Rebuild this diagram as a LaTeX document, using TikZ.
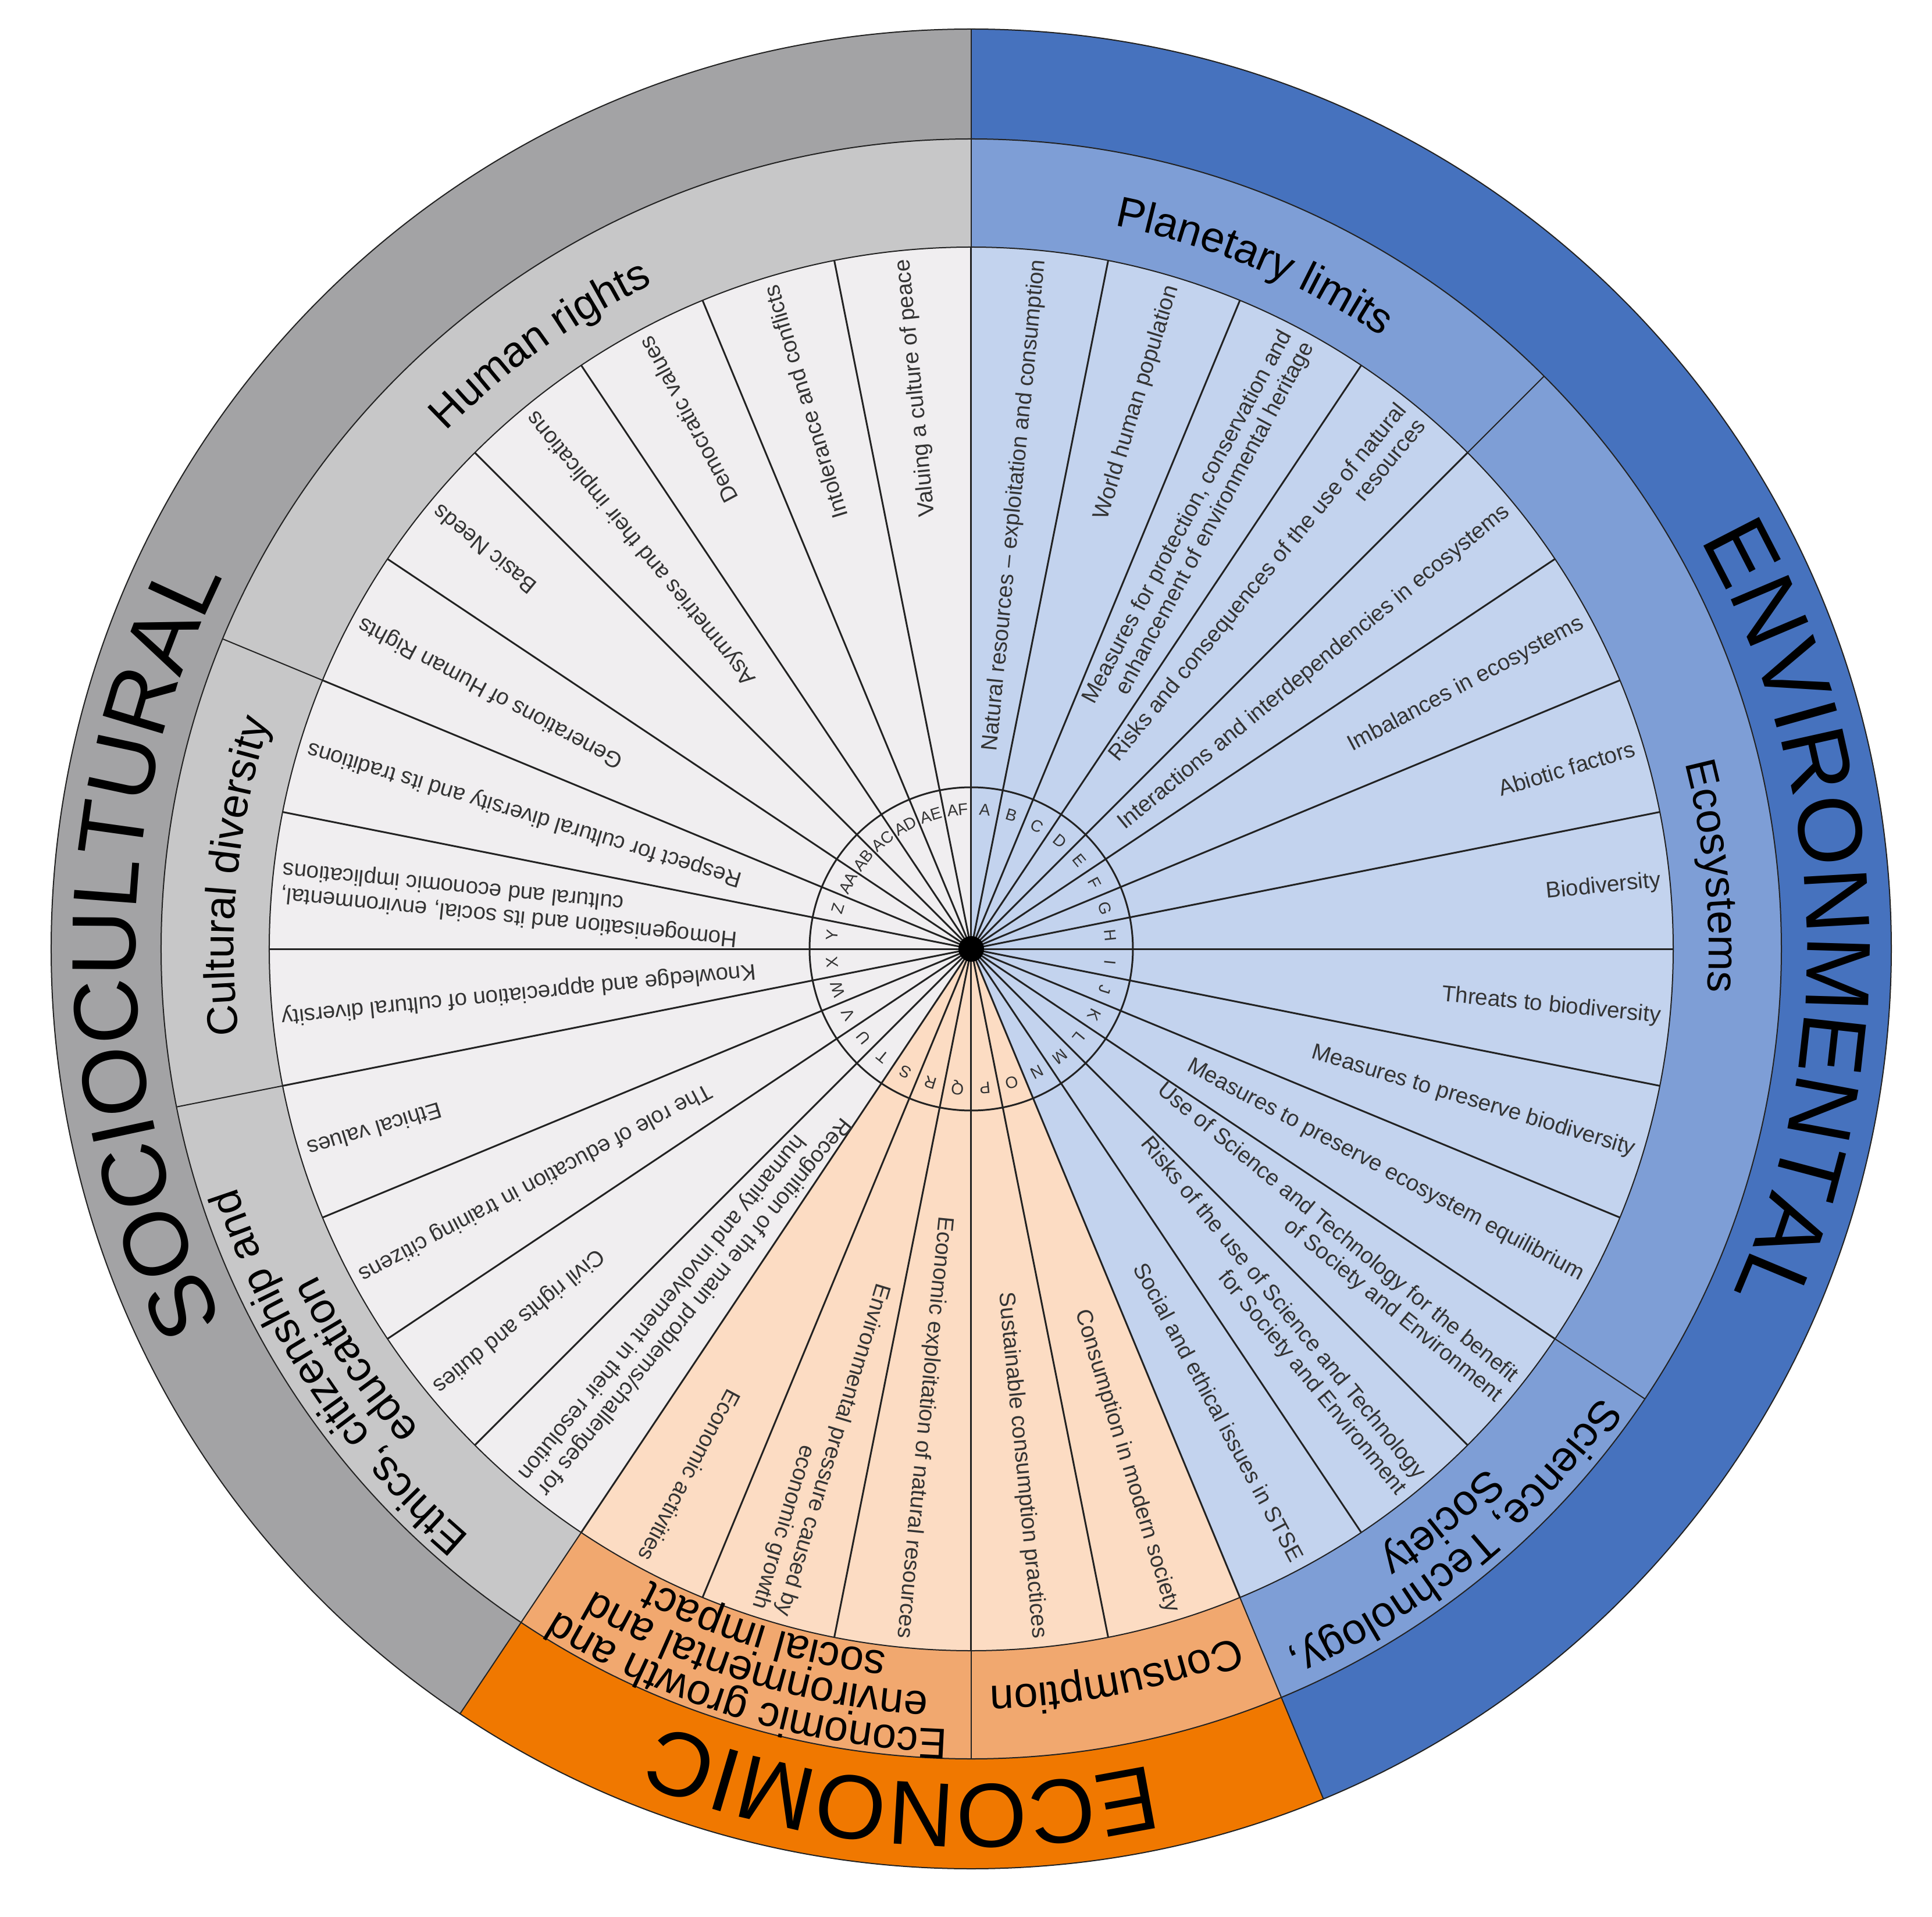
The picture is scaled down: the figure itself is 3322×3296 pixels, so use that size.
\documentclass[tikz,border=0pt]{standalone}
\usepackage{fontspec}
\setmainfont{Liberation Sans}
\usetikzlibrary{decorations.text}
\definecolor{socO}{HTML}{A3A3A5}
\definecolor{socT}{HTML}{C7C7C8}
\definecolor{socS}{HTML}{F0EEF0}
\definecolor{envO}{HTML}{4672BE}
\definecolor{envT}{HTML}{7E9ED6}
\definecolor{envS}{HTML}{C3D3EE}
\definecolor{ecoO}{HTML}{F07800}
\definecolor{ecoT}{HTML}{F1A86F}
\definecolor{ecoS}{HTML}{FCDCC3}
\definecolor{lnc}{HTML}{222222}
\definecolor{stc}{HTML}{333333}
\definecolor{ltc}{HTML}{333333}
\newcommand\thfont{\fontsize{21}{21}\selectfont}
\newcommand\bigfont{\fontsize{44.5}{44.5}\selectfont}
\newcommand\ringfill[5]{\fill[#1] (#2:#4) arc[start angle=#2, end angle=#3, radius=#4] -- (#3:#5) arc[start angle=#3, end angle=#2, radius=#5] -- cycle;}
\newcommand\sectxt[3]{\node[stext, rotate={90-11.25*(#1+0.5)}] (s#2) at ({90-11.25*(#1+0.5)}:1192) {#3};}
\newcommand\letr[2]{\node[lett, rotate={-11.25*(#1+0.5)}] (l#2) at ({90-11.25*(#1+0.5)}:240) {#2};}
\newcommand\arctext[4]{\path[decorate,decoration={text along path,text align=center,text={#4}}] ({#1+#3}:#2) arc[start angle={#1+#3}, end angle={#1-#3}, radius=#2];}
\begin{document}
\begin{tikzpicture}[x=0.1mm,y=0.1mm,
  stext/.style={font=\fontsize{11}{12.2}\selectfont, text=stc, align=right, inner sep=0pt, anchor=east},
  lett/.style={font=\fontsize{8}{8}\selectfont, text=ltc, inner sep=0pt},
  ln/.style={draw=lnc, line width=0.2mm},
  rad/.style={draw=lnc, line width=0.3mm}]
\useasboundingbox (-1670,-1664) rectangle (1652,1632);
\fill[white] (-1670,-1664) rectangle (1652,1632);
% sector fills
\fill[envS] (0,0) -- (90:1207) arc[start angle=90, end angle=-67.5, radius=1207] -- cycle;
\fill[ecoS] (0,0) -- (-67.5:1207) arc[start angle=-67.5, end angle=-123.75, radius=1207] -- cycle;
\fill[socS] (0,0) -- (-123.75:1207) arc[start angle=-123.75, end angle=-270, radius=1207] -- cycle;
% theme ring
\ringfill{envT}{90}{-67.5}{1207}{1393}
\ringfill{ecoT}{-67.5}{-123.75}{1207}{1393}
\ringfill{socT}{-123.75}{-270}{1207}{1393}
% outer ring
\ringfill{envO}{90}{-67.5}{1393}{1582}
\ringfill{ecoO}{-67.5}{-123.75}{1393}{1582}
\ringfill{socO}{-123.75}{-270}{1393}{1582}
% circles
\foreach \r in {1207,1393,1582} \draw[ln] (0,0) circle[radius=\r];
\draw[rad] (0,0) circle[radius=278];
% radial lines
\foreach \i in {0,...,31} \draw[rad] (0,0) -- ({90-11.25*\i}:1207);
\foreach \b in {0,45,123.75,157.5,180,213.75,258.75,292.5} \draw[ln] ({90-\b}:1207) -- ({90-\b}:1393);
\foreach \b in {0,157.5,213.75} \draw[ln] ({90-\b}:1393) -- ({90-\b}:1582);
\fill[black] (0,0) circle[radius=22];
% letters
\letr{0}{A}\letr{1}{B}\letr{2}{C}\letr{3}{D}\letr{4}{E}\letr{5}{F}\letr{6}{G}\letr{7}{H}
\letr{8}{I}\letr{9}{J}\letr{10}{K}\letr{11}{L}\letr{12}{M}\letr{13}{N}\letr{14}{O}\letr{15}{P}
\letr{16}{Q}\letr{17}{R}\letr{18}{S}\letr{19}{T}\letr{20}{U}\letr{21}{V}\letr{22}{W}\letr{23}{X}
\letr{24}{Y}\letr{25}{Z}\letr{26}{AA}\letr{27}{AB}\letr{28}{AC}\letr{29}{AD}\letr{30}{AE}\letr{31}{AF}
% sector texts
\sectxt{0}{A}{Natural resources – exploitation and consumption}
\sectxt{1}{B}{World human population}
\sectxt{2}{C}{Measures for protection, conservation and\\enhancement of environmental heritage}
\sectxt{3}{D}{Risks and consequences of the use of natural\\resources}
\sectxt{4}{E}{Interactions and interdependencies in ecosystems}
\sectxt{5}{F}{Imbalances in ecosystems}
\sectxt{6}{G}{Abiotic factors}
\sectxt{7}{H}{Biodiversity}
\sectxt{8}{I}{Threats to biodiversity}
\sectxt{9}{J}{Measures to preserve biodiversity}
\sectxt{10}{K}{Measures to preserve ecosystem equilibrium}
\sectxt{11}{L}{Use of Science and Technology for the benefit\\of Society and Environment}
\sectxt{12}{M}{Risks of the use of Science and Technology\\for Society and Environment}
\sectxt{13}{N}{Social and ethical issues in STSE}
\sectxt{14}{O}{Consumption in modern society}
\sectxt{15}{P}{Sustainable consumption practices}
\sectxt{16}{Q}{Economic exploitation of natural resources}
\sectxt{17}{R}{Environmental pressure caused by\\economic growth}
\sectxt{18}{S}{Economic activities}
\sectxt{19}{T}{Recognition of the main problems/challenges for\\humanity and involvement in their resolution}
\sectxt{20}{U}{Civil rights and duties}
\sectxt{21}{V}{The role of education in training citizens}
\sectxt{22}{W}{Ethical values}
\sectxt{23}{X}{Knowledge and appreciation of cultural diversity}
\sectxt{24}{Y}{Homogenisation and its social, environmental,\\cultural and economic implications}
\sectxt{25}{Z}{Respect for cultural diversity and its traditions}
\sectxt{26}{AA}{Generations of Human Rights}
\sectxt{27}{AB}{Basic Needs}
\sectxt{28}{AC}{Asymmetries and their implications}
\sectxt{29}{AD}{Democratic values}
\sectxt{30}{AE}{Intolerance and conflicts}
\sectxt{31}{AF}{Valuing a culture of peace}
% theme texts
\arctext{67.5}{1268}{40}{|\thfont|Planetary limits}
\arctext{5.625}{1268}{40}{|\thfont|Ecosystems}
\arctext{-50.625}{1328}{40}{|\thfont|Science, Technology,}
\arctext{-50.625}{1258}{40}{|\thfont|Society}
\arctext{-78.75}{1268}{40}{|\thfont|Consumption}
\arctext{-106.875}{1343}{45}{|\thfont|Economic growth and}
\arctext{-106.875}{1280}{45}{|\thfont|environmental and}
\arctext{-106.875}{1218}{45}{|\thfont|social impact}
\arctext{-146.25}{1328}{45}{|\thfont|Ethics, citizenship and}
\arctext{-146.25}{1258}{45}{|\thfont|education}
\arctext{174.375}{1268}{40}{|\thfont|Cultural diversity}
\arctext{125.5}{1268}{40}{|\thfont|Human rights}
% dimension texts
\arctext{180}{1437}{55}{|\bigfont|SOCIOCULTURAL}
\arctext{2.5}{1437}{55}{|\bigfont|ENVIRONMENTAL}
\arctext{265.3}{1437}{50}{|\bigfont|ECONOMIC}
\end{tikzpicture}
\end{document}
